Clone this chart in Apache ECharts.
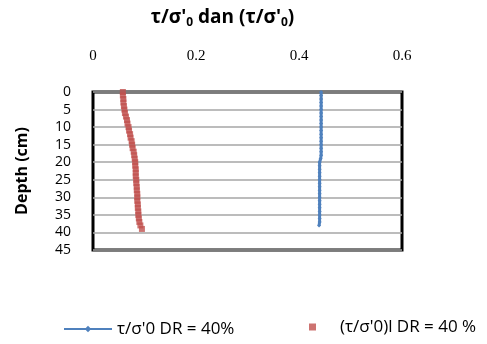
<!DOCTYPE html>
<html>
<head>
    <meta charset="utf-8" />
    <title>Depth chart</title>
    <style>
        html, body { margin: 0; padding: 0; background: #fff; }
        #divChart { width: 487px; height: 344px; }
    </style>
</head>
<body>
    <div id="divChart"></div>
    <script src="https://cdn.jsdelivr.net/npm/echarts@6/dist/echarts.min.js"></script>
    <script>
        // tick labels
        var xTicks = [0, 0.2, 0.4, 0.6];
        var yTicks = [0, 5, 10, 15, 20, 25, 30, 35, 40, 45];

        // blue series: tau/sigma'0 DR = 40%
        var blueDepth = [0, 1, 2, 3, 4, 5, 6, 7, 8, 9, 10, 11, 12, 13, 14, 15, 16, 17, 18, 19,
                         20, 21, 22, 23, 24, 25, 26, 27, 28, 29, 30, 31, 32, 33, 34, 35, 36, 37, 38];
        var blueValue = [0.443, 0.443, 0.443, 0.443, 0.443, 0.443, 0.443, 0.443, 0.443, 0.443,
                         0.443, 0.443, 0.443, 0.443, 0.443, 0.443, 0.443, 0.443, 0.443, 0.442,
                         0.440, 0.440, 0.440, 0.440, 0.440, 0.440, 0.440, 0.440, 0.440, 0.440,
                         0.440, 0.440, 0.440, 0.440, 0.440, 0.440, 0.440, 0.440, 0.439];

        // red series: (tau/sigma'0)l DR = 40 %
        var redDepth = [0, 1, 2, 3, 4, 5, 6, 7, 8, 9, 10, 11, 12, 13, 14, 15, 16, 17, 18, 19,
                        20, 21, 22, 23, 24, 25, 26, 27, 28, 29, 30, 31, 32, 33, 34, 35, 36, 37, 38, 39];
        var redValue = [0.058, 0.058, 0.059, 0.059, 0.060, 0.061, 0.062, 0.064, 0.066, 0.067,
                        0.069, 0.070, 0.072, 0.073, 0.075, 0.076, 0.077, 0.079, 0.080, 0.081,
                        0.082, 0.082, 0.083, 0.083, 0.083, 0.084, 0.084, 0.085, 0.085, 0.086,
                        0.086, 0.086, 0.087, 0.087, 0.088, 0.088, 0.089, 0.090, 0.092, 0.095];

        var blueName = "τ/σ'0 DR = 40%";
        var redName = "(τ/σ'0)l DR = 40 %";

        function pairs(xs, ys) {
            var out = [];
            for (var i = 0; i < xs.length; i++) out.push([xs[i], ys[i]]);
            return out;
        }

        var myChart = echarts.init(document.getElementById('divChart'), null, { renderer: 'canvas' });

        var legendText = { fontFamily: 'Open Sans', fontSize: 17, color: '#000', lineHeight: 18 };

        var option = {
            animation: false,
            backgroundColor: '#fff',
            grid: { left: 93, right: 85, top: 92, bottom: 94, show: true, borderColor: '#000', borderWidth: 3 },
            xAxis: {
                type: 'value',
                position: 'top',
                min: xTicks[0],
                max: xTicks[xTicks.length - 1],
                interval: 0.2,
                name: "τ/σ'{sub|0} dan (τ/σ'{sub|0})",
                nameLocation: 'middle',
                nameGap: 63,
                nameTextStyle: {
                    fontFamily: 'Open Sans', fontSize: 19, fontWeight: 'bold', color: '#000',
                    padding: [0, 50, 0, 0],
                    rich: { sub: { fontSize: 12, fontWeight: 'bold', padding: [10, 0, 0, 0], fontFamily: 'Open Sans' } }
                },
                axisLine: { show: false },
                axisTick: { show: false },
                splitLine: { show: false },
                axisLabel: { margin: 28, color: '#000', fontFamily: 'Liberation Serif', fontSize: 15 }
            },
            yAxis: {
                type: 'value',
                inverse: true,
                min: yTicks[0],
                max: yTicks[yTicks.length - 1],
                interval: 5,
                name: 'Depth (cm)',
                nameLocation: 'middle',
                nameGap: 63,
                nameTextStyle: { fontFamily: 'Open Sans', fontSize: 16, fontWeight: 'bold', color: '#000' },
                axisLine: { show: false },
                axisTick: { show: false },
                splitLine: { lineStyle: { color: '#a6a6a6', width: 1.5 } },
                axisLabel: { margin: 22, color: '#000', fontFamily: 'Open Sans', fontSize: 14, lineHeight: 14 }
            },
            legend: [
                {
                    top: 320,
                    left: 63,
                    padding: 0,
                    itemWidth: 48,
                    itemHeight: 8,
                    textStyle: legendText,
                    data: [blueName]
                },
                {
                    top: 318,
                    left: 309,
                    padding: 0,
                    itemWidth: 26,
                    itemHeight: 7,
                    textStyle: legendText,
                    data: [{ name: redName, icon: 'path://M0,0L7,0L7,7L0,7ZM26,0L26.01,0L26.01,0.01L26,0.01Z' }]
                }
            ],
            series: [
                {
                    name: blueName,
                    type: 'line',
                    data: pairs(blueValue, blueDepth),
                    color: '#4f81bd',
                    lineStyle: { width: 3, color: '#4f81bd' },
                    symbol: 'diamond',
                    symbolSize: 4,
                    itemStyle: { color: '#4f81bd' }
                },
                {
                    name: redName,
                    type: 'scatter',
                    data: pairs(redValue, redDepth),
                    symbol: 'rect',
                    symbolSize: 6,
                    itemStyle: { color: '#c0504d' }
                }
            ]
        };
        myChart.setOption(option);
    </script>
</body>
</html>
